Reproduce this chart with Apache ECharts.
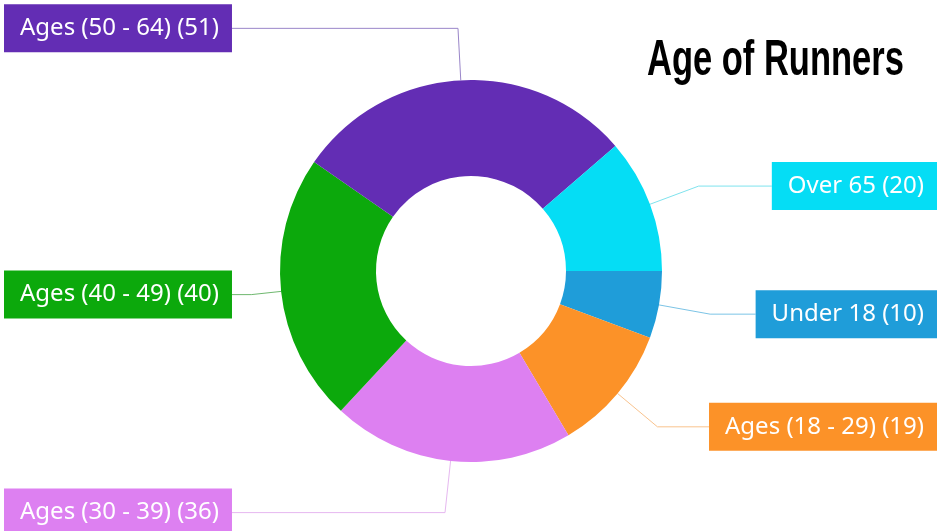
<!DOCTYPE html>
<html>
<head>
<meta charset="utf-8">
<title>Age of Runners</title>
<script src="https://cdn.jsdelivr.net/npm/echarts@6/dist/echarts.min.js"></script>
<style>
  html, body { margin: 0; padding: 0; background: #ffffff; }
  #chart { width: 937px; height: 531px; }
</style>
</head>
<body>
<div id="chart"></div>
<script>
// Age groups of runners, listed clockwise from 3 o'clock
const categories = ['Under 18', 'Ages (18 - 29)', 'Ages (30 - 39)', 'Ages (40 - 49)', 'Ages (50 - 64)', 'Over 65'];
const counts = [10, 19, 36, 40, 51, 20];
const sliceColors = ['#1F9DD9', '#FC9228', '#DD80F1', '#0CA90C', '#632DB4', '#05DDF5'];
const leaderColors = ['#7CC4E6', '#F9C38E', '#E6B8F0', '#6FB86F', '#9A86C9', '#7FE3EE'];
const titleText = 'Age of Runners';

const chart = echarts.init(document.getElementById('chart'), null, { renderer: 'canvas' });

// labels on the left sit a few pixels in from the border, those on the right touch it
const leftSide = ['Ages (30 - 39)', 'Ages (40 - 49)', 'Ages (50 - 64)'];

const seriesData = categories.map((name, i) => ({
  name: name,
  value: counts[i],
  itemStyle: { color: sliceColors[i] },
  label: {
    backgroundColor: sliceColors[i],
    edgeDistance: leftSide.includes(name) ? 4 : 0
  },
  labelLine: {
    length: name === 'Ages (40 - 49)' ? 30 : 52,
    lineStyle: { color: leaderColors[i] }
  }
}));

chart.setOption({
  backgroundColor: '#ffffff',
  animation: false,
  graphic: [{
    type: 'text',
    x: 647,
    y: 61,
    scaleX: 0.69,
    style: {
      text: titleText,
      fill: '#000000',
      font: 'bold 50px "Liberation Sans", Arial, sans-serif',
      verticalAlign: 'middle',
      align: 'left'
    }
  }],
  series: [{
    type: 'pie',
    left: 0, right: 0, top: 0, bottom: -30,
    center: [471, 271],
    radius: [95, 191],
    startAngle: 0,
    clockwise: true,
    avoidLabelOverlap: true,
    data: seriesData,
    label: {
      show: true,
      position: 'outer',
      alignTo: 'edge',
      distanceToLabelLine: 0,
      formatter: p => p.name + ' (' + p.value + ')',
      color: '#ffffff',
      fontFamily: '"Noto Sans", "Open Sans", sans-serif',
      fontSize: 24,
      lineHeight: 24,
      padding: [12, 13, 12, 16]
    },
    labelLine: {
      show: true,
      length: 52,
      length2: 10,
      smooth: false,
      lineStyle: { width: 1 }
    },
    emphasis: { disabled: true }
  }]
});
</script>
</body>
</html>
